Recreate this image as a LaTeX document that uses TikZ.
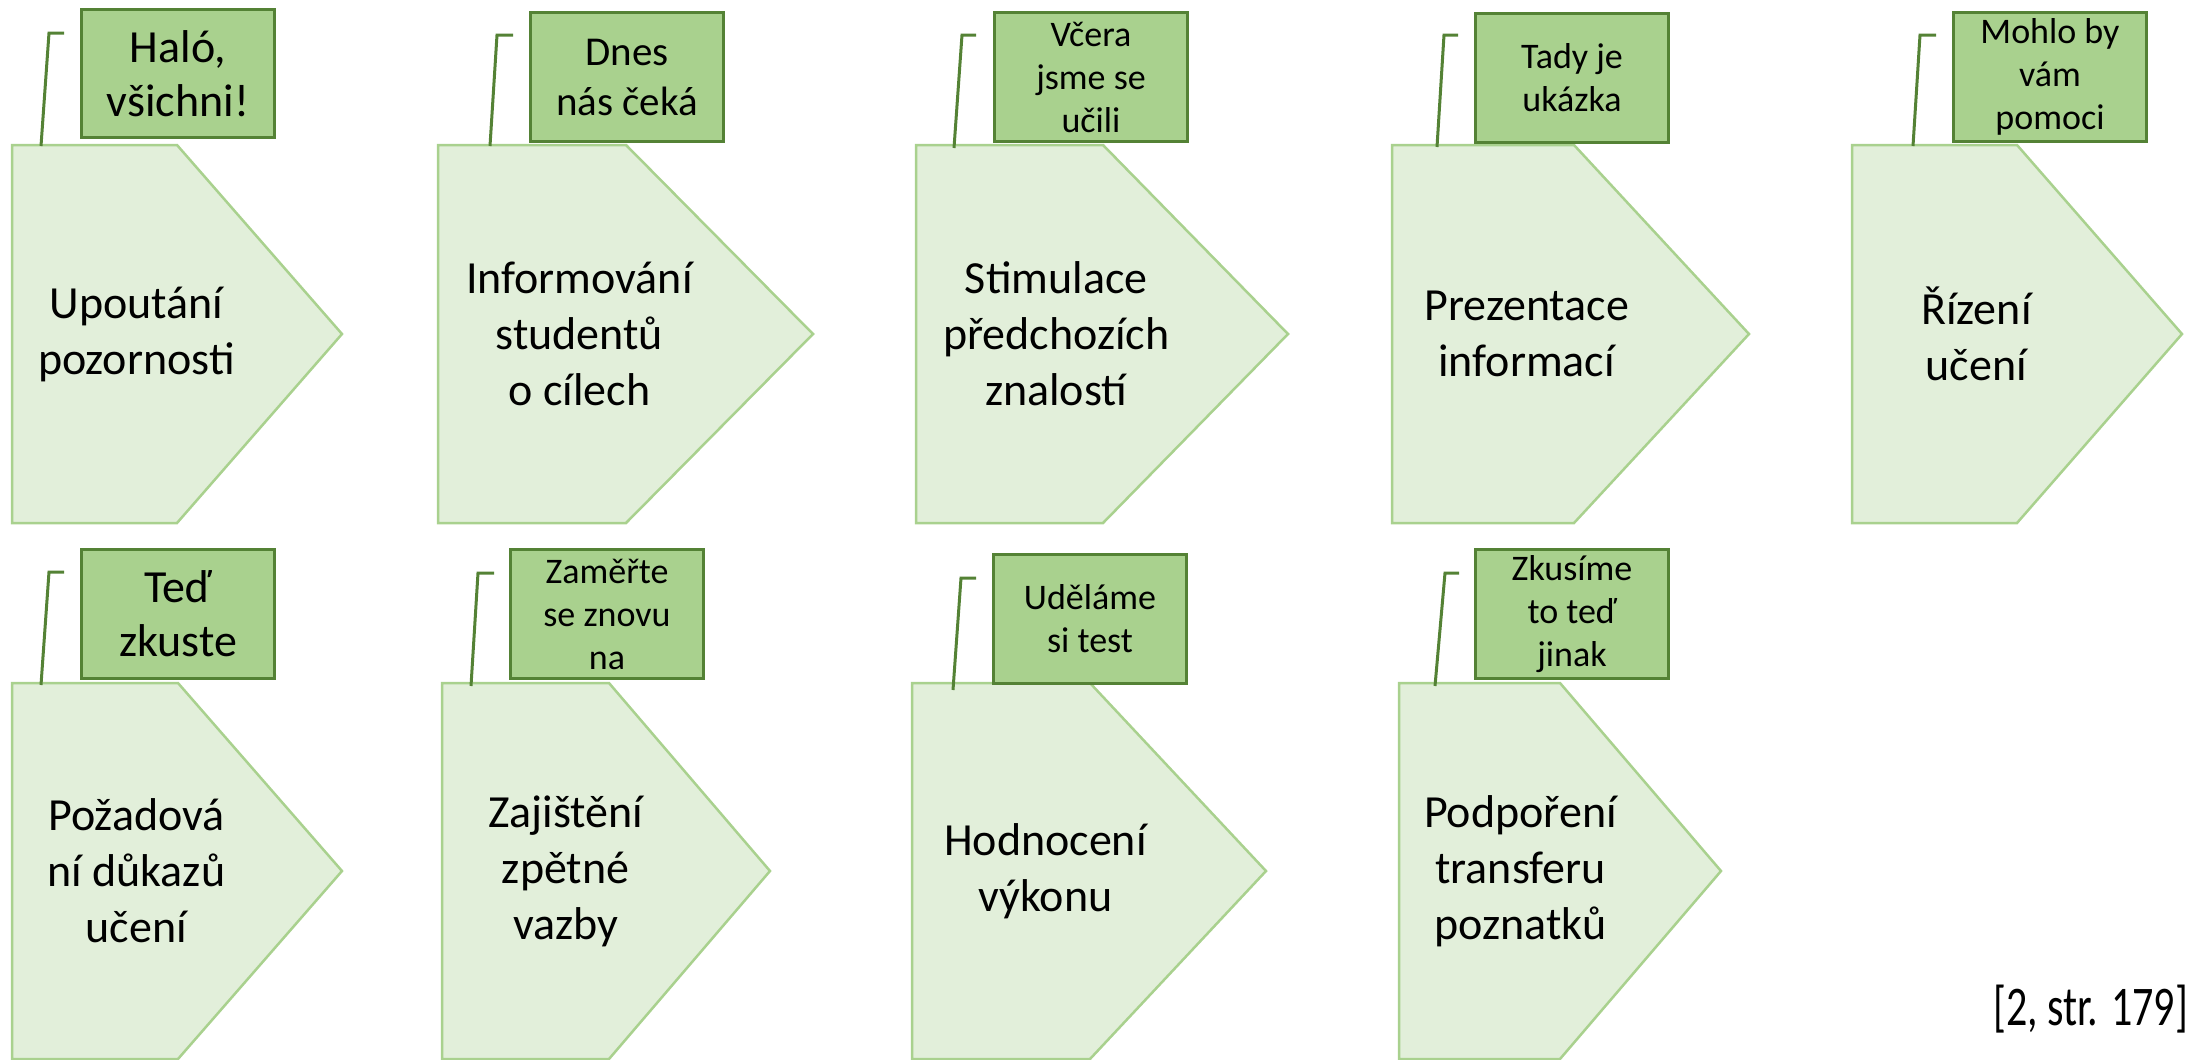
\documentclass[tikz,border=0pt]{standalone}
\usepackage{fontspec}
\setmainfont{Carlito}
\definecolor{shapefill}{HTML}{E2EFDA}
\definecolor{shapedraw}{HTML}{A9D18E}
\definecolor{boxfill}{HTML}{A9D18E}
\definecolor{boxdraw}{HTML}{548235}
\newcommand{\mypent}[7]{% name, left, notch, tip, top, bottom, text
  \draw[pentstyle] (#2,#5) -- (#3,#5) -- (#4,{(#5+#6)/2}) -- (#3,#6) -- (#2,#6) -- cycle;
  \node[ptext] (#1) at ({#2+0.377*(#4-#2)},{(#5+#6)/2}) {#7};
}
\begin{document}
\begin{tikzpicture}[x=1pt,y=-1pt,
  pentstyle/.style={fill=shapefill,draw=shapedraw,line width=2.5pt,line join=miter},
  ptext/.style={align=center,inner sep=0pt,font=\fontsize{46}{56}\selectfont},
  callbox/.style={fill=boxfill,draw=boxdraw,line width=3pt,anchor=north west,
    minimum width=193pt,minimum height=129pt,inner sep=0pt,align=center,
    font=\fontsize{36}{43}\selectfont},
  bigtext/.style={font=\fontsize{46}{54}\selectfont},
  conn/.style={draw=boxdraw,line width=3pt}]
\useasboundingbox (0,0) rectangle (2190,1060);
\clip (0,0) rectangle (2190,1060);
% row 1
\mypent{s1}{12}{177}{342}{145}{523}{Upoutání\\pozornosti}
\mypent{s2}{438}{626}{813}{145}{523}{Informování\\studentů\\o cílech}
\mypent{s3}{916}{1103}{1288}{145}{523}{Stimulace\\předchozích\\znalostí}
\mypent{s4}{1392}{1574}{1749}{145}{523}{Prezentace\\informací}
\mypent{s5}{1852}{2017}{2182}{145}{523}{Řízení\\učení}
% row 2
\mypent{r1}{12}{178}{342}{683}{1059}{Požadová\\ní důkazů\\učení}
\mypent{r2}{442}{609}{770}{683}{1059}{Zajištění\\zpětné\\vazby}
\mypent{r3}{912}{1090}{1266}{683}{1059}{Hodnocení\\výkonu}
\mypent{r4}{1399}{1560}{1721}{683}{1059}{Podpoření\\transferu\\poznatků}
% boxes row 1
\node[callbox,bigtext,minimum height=128pt] (b1) at (80,8) {Haló,\\všichni!};
\node[callbox,font=\fontsize{41}{50}\selectfont] (b2) at (529,11) {Dnes\\nás čeká};
\node[callbox] (b3) at (993,11) {Včera\\jsme se\\učili};
\node[callbox] (b4) at (1474,12) {Tady je\\ukázka};
\node[callbox] (b5) at (1952,11) {Mohlo by\\vám\\pomoci};
% boxes row 2
\node[callbox,bigtext] (q1) at (80,548) {Teď\\zkuste};
\node[callbox] (q2) at (509,548) {Zaměřte\\se znovu\\na};
\node[callbox] (q3) at (992,553) {Uděláme\\si test};
\node[callbox] (q4) at (1474,548) {Zkusíme\\to teď\\jinak};
% connectors row 1
\coordinate (c1a) at (64,33); \coordinate (c1b) at (49,33); \coordinate (c1c) at (41,146);
\coordinate (c2a) at (513,35); \coordinate (c2b) at (497,35); \coordinate (c2c) at (490,146);
\coordinate (c3a) at (976,35); \coordinate (c3b) at (962,35); \coordinate (c3c) at (954,148);
\coordinate (c4a) at (1458,35); \coordinate (c4b) at (1444,35); \coordinate (c4c) at (1437,147);
\coordinate (c5a) at (1936,35); \coordinate (c5b) at (1920,35); \coordinate (c5c) at (1913,146);
\draw[conn] (c1a) -- (c1b) -- (c1c);
\draw[conn] (c2a) -- (c2b) -- (c2c);
\draw[conn] (c3a) -- (c3b) -- (c3c);
\draw[conn] (c4a) -- (c4b) -- (c4c);
\draw[conn] (c5a) -- (c5b) -- (c5c);
% connectors row 2
\coordinate (d1a) at (64,572); \coordinate (d1b) at (49,572); \coordinate (d1c) at (41,685);
\coordinate (d2a) at (494,573); \coordinate (d2b) at (478,573); \coordinate (d2c) at (471,686);
\coordinate (d3a) at (976,578); \coordinate (d3b) at (961,578); \coordinate (d3c) at (953,690);
\coordinate (d4a) at (1459,573); \coordinate (d4b) at (1445,573); \coordinate (d4c) at (1435,686);
\draw[conn] (d1a) -- (d1b) -- (d1c);
\draw[conn] (d2a) -- (d2b) -- (d2c);
\draw[conn] (d3a) -- (d3b) -- (d3c);
\draw[conn] (d4a) -- (d4b) -- (d4c);
% citation
\node[anchor=base east,inner sep=0pt,xscale=0.75,font=\fontsize{56}{60}\selectfont] (cite) at (2188,1025) {[2, str. 179]};
\end{tikzpicture}
\end{document}
